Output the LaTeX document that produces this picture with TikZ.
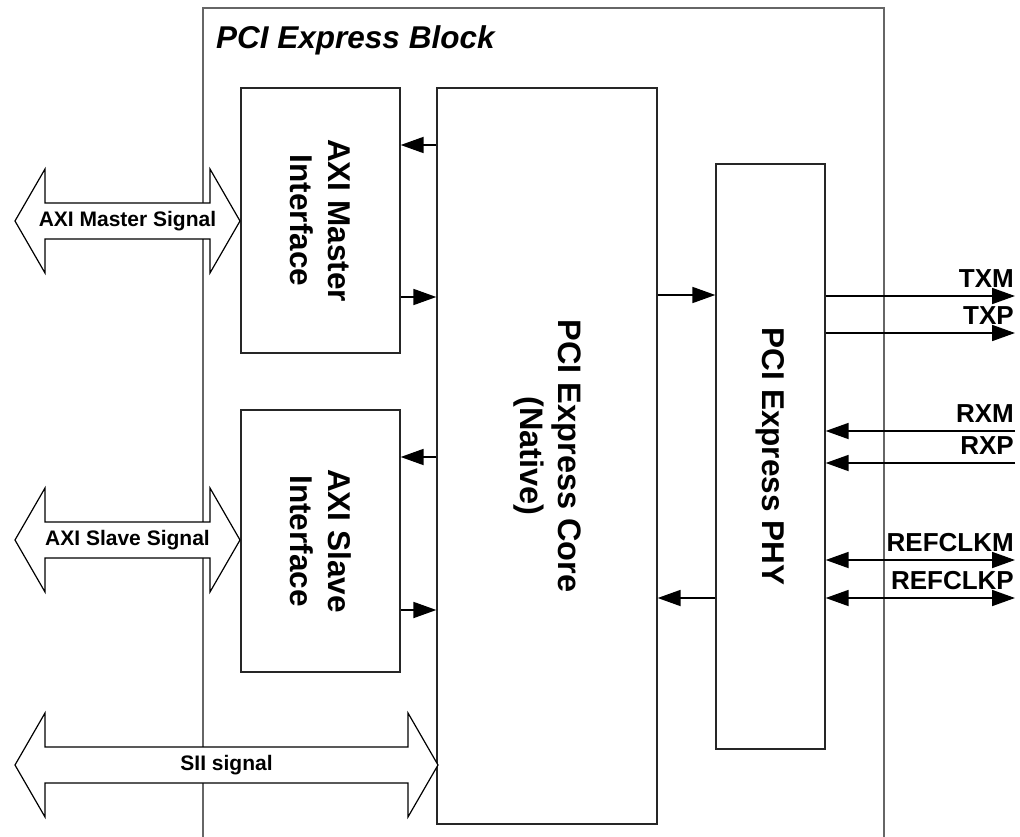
\documentclass[tikz,border=0pt]{standalone}
\usepackage{fontspec}
\setmainfont{Liberation Sans}
\usetikzlibrary{arrows.meta}
\newcommand\fatarr[5]{%
  \draw[fat] (#1,#3) -- ({#1+30},{#3-52}) -- ({#1+30},{#3-18}) -- ({#2-30},{#3-18}) -- ({#2-30},{#3-52}) -- (#2,#3)
    -- ({#2-30},{#3+52}) -- ({#2-30},{#3+18}) -- ({#1+30},{#3+18}) -- ({#1+30},{#3+52}) -- cycle;
  \node[sig] (#5) at ({(#1+#2)/2},#3) {#4};}
\begin{document}
\begin{tikzpicture}[x=1pt,y=-1pt,
  blk/.style={draw=black!85, line width=1.3pt, fill=white, inner sep=0pt},
  arr/.style={line width=1.8pt, -{Triangle[length=23pt,width=16pt]}},
  darr/.style={line width=1.8pt, {Triangle[length=23pt,width=16pt]}-{Triangle[length=23pt,width=16pt]}},
  big/.style={font=\fontsize{31.5}{38}\selectfont\bfseries, align=center, rotate=-90},
  sig/.style={font=\fontsize{21}{24}\selectfont\bfseries, inner sep=0pt},
  pin/.style={font=\fontsize{26}{28}\selectfont\bfseries, inner sep=0pt, anchor=base east},
  fat/.style={draw=black, line width=1.2pt, fill=white},
]
\useasboundingbox (0,0) rectangle (1020,837);
% outer block
\draw[black!60, line width=1.3pt] (203,837) -- (203,8) -- (884,8) -- (884,837);
\node[anchor=base west, inner sep=0pt, font=\fontsize{31.5}{36}\selectfont\bfseries\itshape] (title) at (216,49) {PCI Express Block};

% blocks
\node[blk, minimum width=159pt, minimum height=265pt] (master) at (320.5,220.5) {};
\node[blk, minimum width=159pt, minimum height=262pt] (slave) at (320.5,541) {};
\node[blk, minimum width=220pt, minimum height=736pt] (core) at (547,456) {};
\node[blk, minimum width=109pt, minimum height=585pt] (phy) at (770.5,456.5) {};

\node[big] (mastert) at (master.center) {AXI Master\\Interface};
\node[big] (slavet) at (slave.center) {AXI Slave\\Interface};
\node[big, font=\fontsize{32.5}{38}\selectfont\bfseries] (coret) at (core.center) {PCI Express Core\\(Native)};
\node[big] (phyt) at (phy.center) {PCI Express PHY};

% internal arrows
\draw[arr] (core.west |- 0,145) -- (master.east |- 0,145);
\draw[arr] (master.east |- 0,297) -- (core.west |- 0,297);
\draw[arr] (core.west |- 0,457) -- (slave.east |- 0,457);
\draw[arr] (slave.east |- 0,610) -- (core.west |- 0,610);
\draw[arr] (core.east |- 0,295) -- (phy.west |- 0,295);
\draw[arr] (phy.west |- 0,598) -- (core.east |- 0,598);

% fat double arrows
\fatarr{15}{240}{221}{AXI Master Signal}{ms}
\fatarr{15}{240}{540}{AXI Slave Signal}{ss}
\fatarr{15}{438}{765}{SII signal}{sii}

% pins
\coordinate (txm) at (1015,296);
\coordinate (txp) at (1015,333);
\coordinate (rxm) at (1015,431);
\coordinate (rxp) at (1015,463);
\coordinate (rcm) at (1015,560);
\coordinate (rcp) at (1015,598);
\draw[arr] (phy.east |- txm) -- (txm);
\draw[arr] (phy.east |- txp) -- (txp);
\draw[arr] (rxm) -- (phy.east |- rxm);
\draw[arr] (rxp) -- (phy.east |- rxp);
\draw[darr] (phy.east |- rcm) -- (rcm);
\draw[darr] (phy.east |- rcp) -- (rcp);
\node[pin] (ltxm) at (1014,287) {TXM};
\node[pin] (ltxp) at (1014,324) {TXP};
\node[pin] (lrxm) at (1014,422) {RXM};
\node[pin] (lrxp) at (1014,454) {RXP};
\node[pin] (lrcm) at (1014,551) {REFCLKM};
\node[pin] (lrcp) at (1014,589) {REFCLKP};
\end{tikzpicture}
\end{document}
